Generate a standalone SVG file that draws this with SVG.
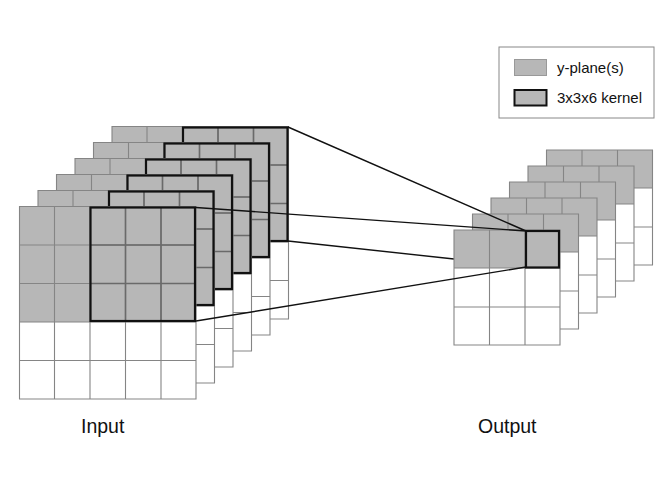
<svg xmlns="http://www.w3.org/2000/svg" width="672" height="504" viewBox="0 0 672 504">
<style>
.g{fill:#b7b7b7}
.w{fill:#fff}
.grid{fill:none;stroke:#858585;stroke-width:1.1}
.kgrid{fill:none;stroke:#6a6a6a;stroke-width:1.6}
.k{fill:none;stroke:#111;stroke-width:2.2}
.c{fill:none;stroke:#111;stroke-width:1.4}
text{font-family:"Liberation Sans",Arial,sans-serif;fill:#111}
</style>
<defs>
<g id="inSheet">
<rect class="w" x="19.5" y="206.5" width="176.5" height="192.5"/>
<rect class="g" x="19.5" y="206.5" width="176.5" height="115.5"/>
<path class="grid" d="M19.5 206.5H196V399H19.5ZM54.5 206.5V399M90 206.5V399M125.5 206.5V399M161 206.5V399M19.5 245H196M19.5 283.5H196M19.5 322H196M19.5 360.5H196"/>
<path class="kgrid" d="M125.5 207.5V321M161 207.5V321M90.5 245H195M90.5 283.5H195"/>
<rect class="k" x="90.5" y="207.5" width="104.5" height="113.5"/>
</g>
<g id="outSheet">
<rect class="w" x="454" y="230" width="106" height="115"/>
<rect class="g" x="454" y="230" width="106" height="38"/>
<path class="grid" d="M454 230H560V345H454ZM489.500 230V345M525 230V345M454 268H560M454 307H560"/>
</g>
</defs>
<g id="input">
<use id="input-5" href="#inSheet" x="92.500" y="-80"/>
<use id="input-4" href="#inSheet" x="74" y="-64"/>
<use id="input-3" href="#inSheet" x="55.500" y="-48"/>
<use id="input-2" href="#inSheet" x="37" y="-32"/>
<use id="input-1" href="#inSheet" x="18.500" y="-16"/>
<use id="input-0" href="#inSheet"/>
</g>
<g id="connector-behind">
<path class="c" d="M288 241L454 259"/>
</g>
<g id="output">
<use id="output-5" href="#outSheet" x="92.500" y="-80"/>
<use id="output-4" href="#outSheet" x="74" y="-64"/>
<use id="output-3" href="#outSheet" x="55.500" y="-48"/>
<use id="output-2" href="#outSheet" x="37" y="-32"/>
<use id="output-1" href="#outSheet" x="18.500" y="-16"/>
<use id="output-0" href="#outSheet"/>
<rect class="k" x="526" y="231" width="33" height="36.500"/>
</g>
<g id="connectors">
<path class="c" d="M288 127L526 231M196 207.500L526 231M196 321L526 267"/>
</g>
<g id="legend">
<rect x="499" y="47" width="155" height="71" fill="#fff" stroke="#888" stroke-width="1"/>
<rect class="g" x="514.500" y="59.500" width="32" height="16" stroke="#999" stroke-width="1"/>
<rect class="g" x="514.500" y="90" width="32" height="15.500" stroke="#111" stroke-width="2"/>
<text x="557" y="73" font-size="15">y-plane(s)</text>
<text x="557" y="103" font-size="15">3x3x6 kernel</text>
</g>
<g id="labels">
<text x="81" y="433" font-size="19.500">Input</text>
<text x="478" y="433" font-size="19.500">Output</text>
</g>
</svg>
